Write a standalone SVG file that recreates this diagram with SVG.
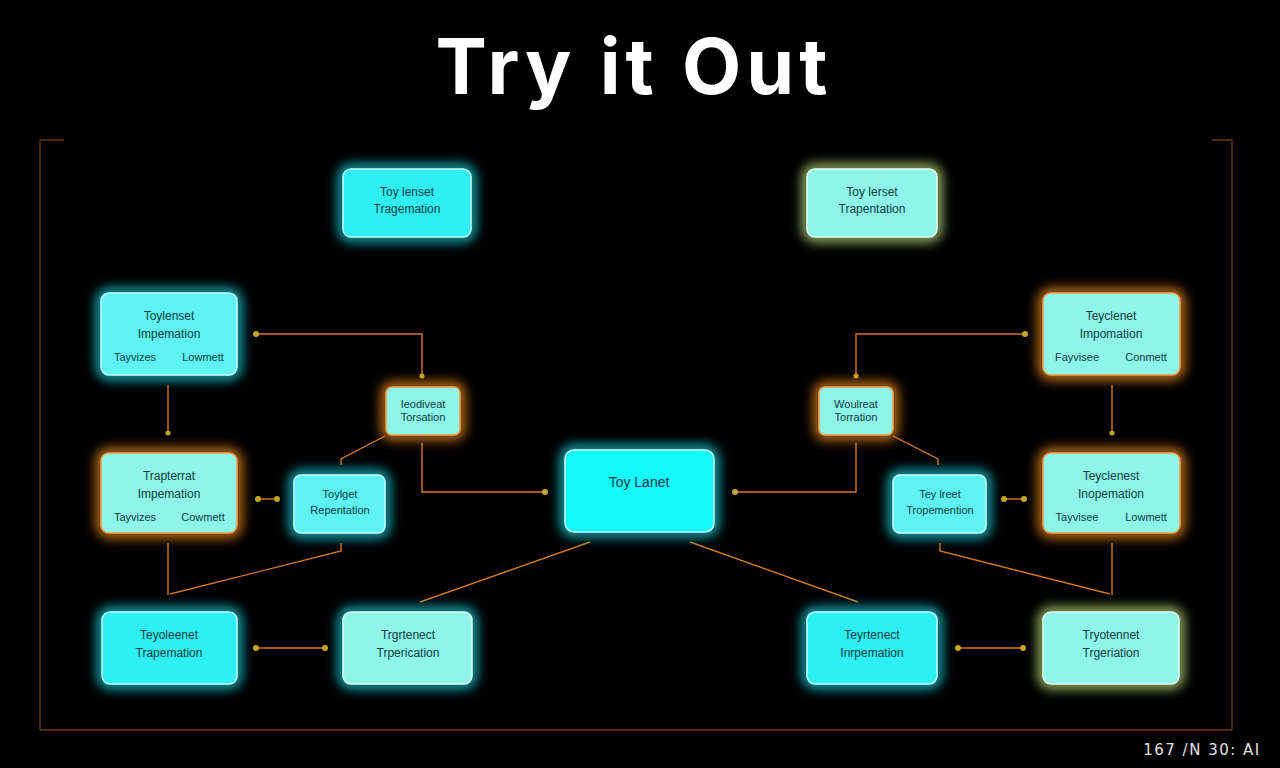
<svg xmlns="http://www.w3.org/2000/svg" width="1280" height="768" viewBox="0 0 1280 768">
<defs>
<filter id="glow" x="-40%" y="-40%" width="180%" height="180%"><feGaussianBlur stdDeviation="6"/></filter>
<style>
.bg{fill:#000}
.frame{fill:none;stroke:#6a3a12;stroke-width:1.3}
.gc{fill:none;stroke:#14c8d4;stroke-width:9;filter:url(#glow)}
.go{fill:none;stroke:#e8861e;stroke-width:9;filter:url(#glow)}
.gy{fill:none;stroke:#b8d878;stroke-width:9;filter:url(#glow)}
.n1{fill:#2ef0f2;stroke:#c8ffff;stroke-width:1.5}
.n2{fill:#8ff5e8;stroke:#e0fff8;stroke-width:1.5}
.n3{fill:#12fafa;stroke:#c8ffff;stroke-width:1.5}
.n4{fill:#5ef2f2;stroke:#d0ffff;stroke-width:1.5}
.ob{stroke:#f0a040}
text{font-family:"Liberation Sans","DejaVu Sans",sans-serif;fill:#0c3c44;text-anchor:middle}
.t{font-size:12px}
.s{font-size:11px}
.c{font-size:14px}
.w{stroke:#d2781e;stroke-width:1.4;fill:none}
.d{fill:#c8a424}
</style>
</defs>
<rect class="bg" width="1280" height="768"/>
<text x="634" y="94" style="font-family:Inter,'Liberation Sans',sans-serif;font-weight:700;font-size:77px;fill:#fff;letter-spacing:5px">Try it Out</text>
<g id="frame">
<path class="frame" d="M64 140H40V730H1232V140H1212"/>
</g>
<g id="connectors">
<path class="w" d="M256 334H422V378"/>
<path class="w" d="M168 385V433"/>
<path class="w" d="M422 443V492H545"/>
<path class="w" d="M385 436L341 459V465"/>
<path class="w" d="M256 499H278"/>
<path class="w" d="M168 543V595"/>
<path class="w" d="M341 543V551L170 594"/>
<path class="w" d="M590 542L420 602"/>
<path class="w" d="M254 648H326"/>
<path class="w" d="M1025 334H856V378"/>
<path class="w" d="M1112 385V435"/>
<path class="w" d="M856 443V492H735"/>
<path class="w" d="M893 436L938 459V465"/>
<path class="w" d="M1003 499H1025"/>
<path class="w" d="M1112 543V595"/>
<path class="w" d="M940 543V551L1110 594"/>
<path class="w" d="M690 542L858 602"/>
<path class="w" d="M957 648H1024"/>
<g>
<circle class="d" cx="256" cy="334" r="3"/><circle class="d" cx="422" cy="376" r="2.5"/>
<circle class="d" cx="168" cy="433" r="2.5"/><circle class="d" cx="545" cy="492" r="3"/>
<circle class="d" cx="258" cy="499" r="3"/><circle class="d" cx="277" cy="499" r="3"/>
<circle class="d" cx="256" cy="648" r="3"/><circle class="d" cx="325" cy="648" r="3"/>
<circle class="d" cx="1025" cy="334" r="3"/><circle class="d" cx="856" cy="376" r="2.5"/>
<circle class="d" cx="1112" cy="433" r="2.5"/><circle class="d" cx="735" cy="492" r="3"/>
<circle class="d" cx="1004" cy="499" r="3"/><circle class="d" cx="1024" cy="499" r="3"/>
<circle class="d" cx="958" cy="648" r="3"/><circle class="d" cx="1023" cy="648" r="3"/>
</g>
</g>
<g id="a1"><rect class="gc" x="343" y="169" width="128" height="68" rx="8"/><rect class="n1" x="343" y="169" width="128" height="68" rx="8"/><text class="t" x="407" y="196">Toy lenset</text><text class="t" x="407" y="213">Tragemation</text></g>
<g id="a2"><rect class="gy" x="807" y="169" width="130" height="68" rx="8"/><rect class="n2" x="807" y="169" width="130" height="68" rx="8"/><text class="t" x="872" y="196">Toy lerset</text><text class="t" x="872" y="213">Trapentation</text></g>
<g id="b1"><rect class="gc" x="101" y="293" width="136" height="82" rx="8"/><rect class="n4" x="101" y="293" width="136" height="82" rx="8"/><text class="t" x="169" y="320">Toylenset</text><text class="t" x="169" y="338">Impemation</text><text class="s" x="135" y="361">Tayvizes</text><text class="s" x="203" y="361">Lowmett</text></g>
<g id="b2"><rect class="go" x="1043" y="293" width="137" height="82" rx="8"/><rect class="n2 ob" x="1043" y="293" width="137" height="82" rx="8"/><text class="t" x="1111" y="320">Teyclenet</text><text class="t" x="1111" y="338">Impomation</text><text class="s" x="1077" y="361">Fayvisee</text><text class="s" x="1146" y="361">Conmett</text></g>
<g id="c1"><rect class="go" x="386" y="387" width="74" height="48" rx="6"/><rect class="n2 ob" x="386" y="387" width="74" height="48" rx="6"/><text class="s" x="423" y="408">Ieodiveat</text><text class="s" x="423" y="421">Torsation</text></g>
<g id="c2"><rect class="go" x="819" y="387" width="74" height="48" rx="6"/><rect class="n2 ob" x="819" y="387" width="74" height="48" rx="6"/><text class="s" x="856" y="408">Woulreat</text><text class="s" x="856" y="421">Torration</text></g>
<g id="d1"><rect class="go" x="101" y="453" width="136" height="80" rx="8"/><rect class="n2 ob" x="101" y="453" width="136" height="80" rx="8"/><text class="t" x="169" y="480">Trapterrat</text><text class="t" x="169" y="498">Impemation</text><text class="s" x="135" y="521">Tayvizes</text><text class="s" x="203" y="521">Cowmett</text></g>
<g id="d2"><rect class="gc" x="294" y="475" width="91" height="58" rx="7"/><rect class="n4" x="294" y="475" width="91" height="58" rx="7"/><text class="s" x="340" y="498">Toylget</text><text class="s" x="340" y="514">Repentation</text></g>
<g id="center"><rect class="gc" x="565" y="450" width="149" height="82" rx="9"/><rect class="n3" x="565" y="450" width="149" height="82" rx="9"/><text class="c" x="639" y="487">Toy Lanet</text></g>
<g id="e1"><rect class="gc" x="893" y="475" width="93" height="58" rx="7"/><rect class="n4" x="893" y="475" width="93" height="58" rx="7"/><text class="s" x="940" y="498">Tey lreet</text><text class="s" x="940" y="514">Tropemention</text></g>
<g id="e2"><rect class="go" x="1043" y="453" width="137" height="80" rx="8"/><rect class="n2 ob" x="1043" y="453" width="137" height="80" rx="8"/><text class="t" x="1111" y="480">Teyclenest</text><text class="t" x="1111" y="498">Inopemation</text><text class="s" x="1077" y="521">Tayvisee</text><text class="s" x="1146" y="521">Lowmett</text></g>
<g id="f1"><rect class="gc" x="102" y="612" width="135" height="72" rx="8"/><rect class="n1" x="102" y="612" width="135" height="72" rx="8"/><text class="t" x="169" y="639">Teyoleenet</text><text class="t" x="169" y="657">Trapemation</text></g>
<g id="f2"><rect class="gc" x="343" y="612" width="129" height="72" rx="8"/><rect class="n2" x="343" y="612" width="129" height="72" rx="8"/><text class="t" x="408" y="639">Trgrtenect</text><text class="t" x="408" y="657">Trperication</text></g>
<g id="f3"><rect class="gc" x="807" y="612" width="130" height="72" rx="8"/><rect class="n1" x="807" y="612" width="130" height="72" rx="8"/><text class="t" x="872" y="639">Teyrtenect</text><text class="t" x="872" y="657">Inrpemation</text></g>
<g id="f4"><rect class="gy" x="1043" y="612" width="136" height="72" rx="8"/><rect class="n2" x="1043" y="612" width="136" height="72" rx="8"/><text class="t" x="1111" y="639">Tryotennet</text><text class="t" x="1111" y="657">Trgeriation</text></g>
<text x="1202" y="755" style="font-family:'DejaVu Sans',sans-serif;font-size:15px;fill:#e0e0e0;letter-spacing:1.5px">167 /N 30: AI</text>
</svg>
